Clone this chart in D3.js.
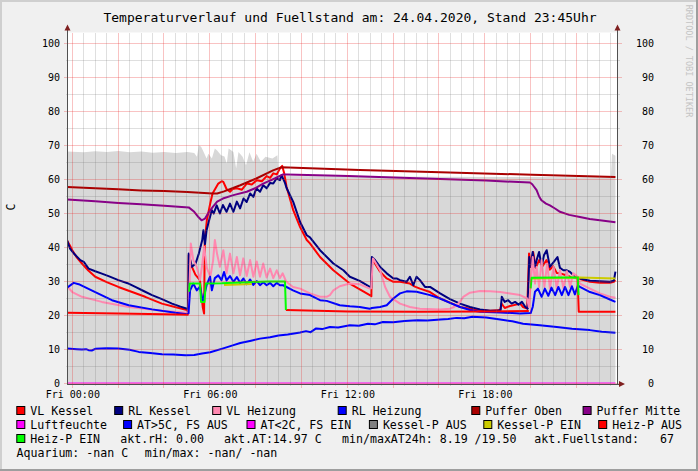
<!DOCTYPE html>
<html><head><meta charset="utf-8">
<script src="https://cdn.jsdelivr.net/npm/d3@7"></script>
<style>body{margin:0;background:#f0f0f0}svg{display:block}text{font-family:"DejaVu Sans Mono",monospace}</style>
</head><body><svg id="c" width="698" height="471"></svg>
<script>
// ---------- data (hour of day, value) ----------
const fuellstand=[[-0.23,68.2],[0.5,68.0],[1.0,68.3],[1.51,68.1],[2.01,68.4],[2.51,68.0],[3.01,68.2],[3.51,67.9],[4.01,68.1],[4.52,67.8],[5.02,68.1],[5.32,67.8],[5.44,66.7],[5.52,70.1],[5.62,69.6],[5.7,68.5],[5.86,66.2],[5.94,67.6],[6.09,66.2],[6.22,69.1],[6.32,68.5],[6.49,67.1],[6.64,66.8],[6.74,64.7],[6.82,69.1],[7.03,68.1],[7.15,63.2],[7.25,68.1],[7.43,66.7],[7.58,64.2],[7.73,68.0],[7.89,65.2],[8.04,67.6],[8.23,65.2],[8.43,66.7],[8.73,66.2],[8.95,67.1],[9.01,61],[12.04,60.9],[16.06,60.8],[20.07,60.7],[23.5,60.6],[23.55,67.6],[23.7,67]];
const vlKessel=[[-0.23,42.1],[-0.1,40.5],[0,39.2],[0.2,37],[0.42,35.3],[0.7,33.2],[1.0,31.4],[1.5,29.8],[2.01,28.4],[2.61,26.9],[3.18,25.5],[3.61,24.3],[3.91,23.5],[4.52,22.4],[5.01,21.6],[5.05,21],[5.08,37.7],[5.22,34.3],[5.37,32],[5.57,30.4],[5.69,22.5],[5.75,20.6],[5.78,42],[5.87,48],[6.02,53],[6.12,55.9],[6.37,58.8],[6.52,59.5],[6.59,59.3],[6.73,57.2],[6.88,56.4],[7.0,57.2],[7.18,57.4],[7.4,57.0],[7.61,58.8],[7.83,58.5],[8.05,59.8],[8.27,59.5],[8.48,61],[8.63,60.5],[8.77,61.8],[8.92,61.5],[9.06,63.2],[9.16,64],[9.24,62],[9.35,57.8],[9.64,51],[9.94,46],[10.23,42.2],[10.37,41.2],[10.81,37.2],[11.39,33.3],[12.11,29.4],[12.98,26],[13.05,25.7],[13.07,36.8],[13.43,32.9],[13.72,30.9],[14.01,29.9],[14.3,29.9],[14.73,29.4],[14.95,28.5],[15.17,27.9],[15.61,26.9],[16.05,25],[16.48,23.8],[16.92,22.5],[17.35,22],[17.79,21.6],[18.23,21.4],[18.67,21.6],[18.73,23.5],[18.87,22.2],[19.1,22.8],[19.37,23.2],[19.54,23.5],[19.67,22.5],[19.85,22],[19.93,38.2],[20.02,34.3],[20.11,38.7],[20.22,34],[20.37,36.3],[20.52,34.5],[20.69,36.3],[20.84,33.5],[20.98,34.5],[21.14,32.5],[21.28,32.4],[21.48,32],[21.72,31.4],[22.15,30.7],[22.59,29.9],[23.02,29.6],[23.46,29.6],[23.63,29.9],[23.7,30.4]];
const rlKessel=[[-0.23,42.1],[-0.1,39.7],[0.1,38],[0.35,36.3],[0.5,35.8],[0.71,33.8],[1.0,33],[1.29,32.3],[1.61,31.5],[2.01,30.4],[2.41,29.5],[2.75,28.4],[3.11,27.2],[3.48,26],[3.91,24.8],[4.35,23.5],[4.72,22.6],[5.01,22],[5.06,22],[5.08,38.2],[5.22,34.3],[5.38,35.3],[5.52,38.2],[5.67,42.2],[5.72,45.1],[5.79,41],[5.86,45.1],[5.97,48],[6.09,51],[6.17,50],[6.3,52.4],[6.44,50],[6.57,52.5],[6.73,50.5],[6.88,52.9],[7.03,50.5],[7.18,53.5],[7.32,51.5],[7.47,54.4],[7.61,53.4],[7.76,55.9],[7.9,54.9],[8.03,57.4],[8.19,56.4],[8.33,58.3],[8.48,57.4],[8.63,59],[8.77,58.8],[8.91,60.3],[9.06,59.8],[9.13,61.3],[9.28,59],[9.35,57.5],[9.64,53.4],[9.94,47.5],[10.23,43.6],[10.37,43],[10.81,39.2],[11.39,35.3],[11.83,33.3],[12.11,31.4],[12.54,30.2],[12.98,28.4],[13.04,28.2],[13.07,37.2],[13.21,36.3],[13.43,34.3],[13.72,32.4],[14.01,30.9],[14.15,30.9],[14.3,30.4],[14.59,29.9],[14.73,31.4],[14.88,28.9],[15.02,31.4],[15.17,30.4],[15.39,28.4],[15.61,28.4],[16.05,26.5],[16.48,24.8],[16.92,23.5],[17.35,22.5],[17.79,21.8],[18.23,21.4],[18.57,21.4],[18.69,21.6],[18.74,25.5],[18.87,24],[19.02,24.5],[19.17,23.5],[19.32,24],[19.47,23.2],[19.62,24],[19.77,22.5],[19.87,22],[19.94,37.2],[20.0,34.3],[20.09,38.7],[20.19,34.3],[20.26,36.3],[20.37,38.7],[20.48,34.3],[20.58,37.7],[20.7,39.2],[20.84,34.3],[21.07,36.3],[21.17,37.2],[21.28,34],[21.43,33.3],[21.58,33.3],[21.72,32.8],[21.86,31.9],[22.15,30.9],[22.59,30.2],[23.02,30.1],[23.46,29.9],[23.63,30.2],[23.7,32.9]];
const vlHeizung=[[-0.23,28.6],[0,26.9],[0.42,25.5],[1.29,24],[2.46,22.5],[3.91,21.4],[5.01,20.8],[5.07,20.6],[5.12,30],[5.17,41.2],[5.28,36.3],[5.43,34.3],[5.57,30.4],[5.67,35],[5.75,40.2],[5.87,34],[6.02,31.4],[6.14,36],[6.22,42.2],[6.32,38],[6.44,34.3],[6.59,39.2],[6.73,32.4],[6.88,38.2],[7.03,32.4],[7.18,37.2],[7.32,31.8],[7.46,36.8],[7.61,31.6],[7.76,36.3],[7.9,31.4],[8.05,35.9],[8.19,31.4],[8.33,35.3],[8.48,31.2],[8.63,33.8],[8.77,31],[8.92,33.3],[9.06,31],[9.18,32.4],[9.33,30],[9.63,28.4],[9.94,27.9],[10.37,26.5],[10.81,25.5],[11.1,25.5],[11.24,26],[11.39,27.4],[11.67,28.6],[12.11,29.4],[12.54,29.2],[12.98,27.9],[13.04,28],[13.12,36.8],[13.43,33.3],[13.65,28.4],[13.86,25.5],[14.3,23.5],[14.73,22.5],[15.17,22],[16.05,21.8],[16.48,22],[16.66,22.5],[16.92,24],[17.06,25.5],[17.35,26.7],[17.79,27.2],[18.23,27.1],[18.67,26.9],[19.1,26.5],[19.54,26],[19.85,25],[19.92,22.5],[20.0,29],[20.09,37.2],[20.19,29.4],[20.26,34.3],[20.37,28.4],[20.48,36.3],[20.6,28.4],[20.72,35.3],[20.84,28],[21.0,34.3],[21.14,28],[21.28,33.3],[21.43,28],[21.58,33],[21.72,28.4],[21.86,32.4],[22.03,31.5],[22.15,29.4],[22.59,27.9],[23.02,26.5],[23.46,25.5],[23.7,25.2]];
const rlHeizung=[[-0.23,28.2],[0.06,29.6],[0.28,29.2],[1.0,26.9],[1.73,24.5],[2.46,23],[3.48,21.8],[4.5,20.8],[5.01,20.4],[5.07,20.6],[5.14,27.4],[5.28,29.4],[5.43,27.4],[5.57,28.5],[5.69,24],[5.86,28.9],[6.01,31.4],[6.09,27.4],[6.22,31],[6.37,31.8],[6.51,30.4],[6.62,32.8],[6.73,30.3],[6.88,31.6],[7.03,29.9],[7.18,31.3],[7.32,29.6],[7.47,30.9],[7.61,29.2],[7.76,30.6],[7.9,29.0],[8.05,30.1],[8.19,28.9],[8.33,29.8],[8.48,28.9],[8.63,29.6],[8.77,28.6],[8.92,29.6],[9.06,28.9],[9.2,28.9],[9.63,27.4],[9.94,26.5],[10.37,26],[10.81,24.5],[11.1,24.3],[11.67,23],[12.11,22.7],[12.54,22.5],[12.98,22],[13.07,22.2],[13.43,22.5],[13.72,23],[14.01,25],[14.3,26.5],[14.59,27.1],[15.02,27],[15.61,26],[16.05,25],[16.48,23.7],[16.92,22.5],[17.35,21.6],[17.79,21.1],[18.67,20.9],[19.54,20.6],[20.0,20.7],[20.09,22.5],[20.19,27],[20.32,27.9],[20.48,25.5],[20.62,27.9],[20.77,25.8],[20.91,28.2],[21.07,26],[21.21,28.4],[21.36,26],[21.5,28.4],[21.65,26],[21.8,28.6],[21.93,26.2],[22.06,28.8],[22.15,28.4],[22.59,26.9],[23.02,26],[23.46,24.7],[23.7,24]];
const pufferOben=[[-0.23,57.8],[1,57.4],[2.01,57.1],[3.01,56.8],[4.01,56.6],[5.02,56.3],[6.12,55.9],[6.32,55.9],[6.62,56.5],[7.33,58.3],[8.03,60.3],[8.76,62.7],[9.13,63.6],[12.54,62.8],[16.06,62.1],[20.07,61.4],[23.7,60.7]];
const pufferMitte=[[-0.23,54.1],[1,53.6],[2.01,53.1],[3.01,52.7],[4.01,52.3],[5.08,51.8],[5.32,50.5],[5.52,48.8],[5.64,48],[5.79,48.5],[5.97,50.5],[6.14,52],[6.32,53.5],[6.57,54.4],[7.03,55.4],[7.61,56.4],[8.03,57.6],[8.33,58.8],[8.83,60.3],[9.19,61.5],[9.36,61.5],[12.04,61],[15.05,60.4],[18.06,59.7],[19.97,59.1],[20.07,58.6],[20.26,56.9],[20.37,55],[20.47,53.9],[20.67,52.9],[20.84,52.4],[21.08,51.4],[21.28,50.5],[21.68,49.6],[22.15,49],[22.58,48.4],[23.02,48],[23.7,47.4]];
const luftfeuchte=[[-0.23,0],[23.7,0]];
const aussen=[[-0.23,10.3],[0.2,10.1],[0.42,10.0],[0.6,10.1],[0.71,9.8],[0.85,9.7],[1.0,10.2],[1.5,10.4],[2.01,10.3],[2.5,9.9],[2.9,9.3],[3.4,9.0],[3.91,8.6],[4.4,8.5],[4.93,8.3],[5.32,8.4],[5.66,8.8],[6.02,9.2],[6.62,10.4],[7.0,11.2],[7.33,11.9],[7.8,12.6],[8.19,13.2],[8.63,13.6],[9.0,14.1],[9.4,14.4],[9.94,15.0],[10.2,15.4],[10.4,15.1],[10.64,16.2],[10.9,16.0],[11.24,16.6],[11.6,16.5],[12.11,17.1],[12.5,17.0],[12.9,17.6],[13.2,17.4],[13.55,18.1],[14.0,18.0],[14.5,18.4],[15.05,18.6],[15.5,18.5],[16.06,18.8],[16.4,19.0],[16.76,19.3],[17.1,19.2],[17.46,19.6],[18.06,19.4],[18.67,18.8],[19.2,18.3],[19.67,17.6],[20.4,17.1],[21.14,16.6],[21.8,16.1],[22.58,15.7],[23.1,15.2],[23.7,14.9]];
const kesselPEin=[[6.62,29.0],[7.83,29.3],[7.84,null],[20.07,30.9],[22.15,31.2],[23.7,30.9]];
const heizPAus=[[-0.23,20.8],[2.01,20.6],[4.01,20.4],[5.07,20.2],[5.08,null],[9.32,21.6],[12.04,21.2],[15.05,21.1],[18.06,21.2],[19.92,21.3],[19.93,null],[22.05,30.6],[22.1,21.1],[23.7,21.1]];
const heizPEin=[[5.1,27],[5.12,29.4],[5.57,29.4],[5.62,24],[5.77,24],[5.82,29.4],[6.52,29.5],[7.53,29.8],[8.53,30],[9.28,30],[9.32,21.6],[9.33,null],[20.0,28],[20.04,31.1],[21.08,31.2],[22.06,31.2],[22.09,26]];

const yTicks=[0,10,20,30,40,50,60,70,80,90,100];
const xTickHours=[0,6,12,18];
const xTickLabels=["Fri 00:00","Fri 06:00","Fri 12:00","Fri 18:00"];
const titleText="Temperaturverlauf und Fuellstand am: 24.04.2020, Stand 23:45Uhr";
const legendRow1=[["VL Kessel","#ff0000"],["RL Kessel","#000080"],["VL Heizung","#ff88b0"],["RL Heizung","#0000ff"],["Puffer Oben","#aa0000"],["Puffer Mitte","#880088"]];
const legendRow2=[["Luftfeuchte","#ff00ff"],["AT>5C, FS AUS","#0000ff"],["AT<2C, FS EIN","#ff00ff"],["Kessel-P AUS","#808080"],["Kessel-P EIN","#cccc00"],["Heiz-P AUS","#ff0000"]];
const legendRow3=[["Heiz-P EIN","#00ff00"]];
const infoRow3=["akt.rH: 0.00","akt.AT:14.97 C","min/maxAT24h: 8.19 /19.50","akt.Fuellstand:   67"];
const infoRow4=["Aquarium: -nan C","min/max: -nan/ -nan"];

// ---------- layout ----------
const W=698,H=471, L=67.5,R=617.5,T=32.5,B=383.5;
const row1X=[16.3,114.2,212.2,337.7,471.3,582.6];
const row2X=[16.3,123.1,246.5,368.9,483.3,598.2];
const info3X=[120.2,224,342,534.3];
const info4X=[16.5,144.7];
const rowY=[411,425,439,453];

const svg=d3.select("#c");
svg.append("rect").attr("width",W).attr("height",H).attr("fill","#f0f0f0");
svg.append("path").attr("d",`M0,1H${W-1}M1,0V${H-1}`).attr("stroke","#cfcfcf").attr("stroke-width",2);
svg.append("path").attr("d",`M${W-1},0V${H}M0,${H-1}H${W}`).attr("stroke","#9e9e9e").attr("stroke-width",2);

const x=d3.scaleLinear().domain([-0.21,23.79]).range([L,R]);
const y=d3.scaleLinear().domain([0,(B-T)/3.4]).range([B,T]);

svg.append("defs").append("clipPath").attr("id","clip").append("rect").attr("x",L).attr("y",T).attr("width",R-L).attr("height",B-T);
svg.append("rect").attr("x",L).attr("y",T).attr("width",R-L).attr("height",B-T).attr("fill","#ffffff");

const plot=svg.append("g").attr("clip-path","url(#clip)");
plot.append("path").datum(fuellstand).attr("fill","#d8d8d8")
  .attr("d",d3.area().x(d=>x(d[0])).y0(y(0)).y1(d=>y(d[1])));

// grid
const grid=svg.append("g").attr("shape-rendering","crispEdges");
const minorX=d3.range(0,23.76,0.5), minorY=d3.range(5,101,10);
grid.selectAll(".mx").data(minorX.filter(h=>h%2!==0)).enter().append("line")
  .attr("x1",d=>x(d)).attr("x2",d=>x(d)).attr("y1",T).attr("y2",B+2).attr("stroke","rgba(110,110,110,0.22)");
grid.selectAll(".my").data(minorY).enter().append("line")
  .attr("x1",L-2).attr("x2",R+2).attr("y1",d=>y(d)).attr("y2",d=>y(d)).attr("stroke","rgba(110,110,110,0.22)");
grid.selectAll(".Mx").data(d3.range(0,23,2)).enter().append("line")
  .attr("x1",d=>x(d)).attr("x2",d=>x(d)).attr("y1",T).attr("y2",B+4).attr("stroke","rgba(235,40,40,0.28)");
grid.selectAll(".My").data(yTicks).enter().append("line")
  .attr("x1",L-4).attr("x2",R+4).attr("y1",d=>y(d)).attr("y2",d=>y(d)).attr("stroke","rgba(235,40,40,0.28)");

// lines
const line=d3.line().defined(d=>d[1]!==null).x(d=>x(d[0])).y(d=>y(d[1]));
const series=[[vlKessel,"#ff0000"],[rlKessel,"#000080"],[vlHeizung,"#ff88b0"],[rlHeizung,"#0000ff"],[pufferOben,"#aa0000"],[pufferMitte,"#880088"],[luftfeuchte,"#ff00ff"],[aussen,"#0000ff"],[kesselPEin,"#cccc00"],[heizPAus,"#ff0000"],[heizPEin,"#00ff00"]];
series.forEach(([data,col])=>{
  plot.append("path").datum(data).attr("fill","none").attr("stroke",col).attr("stroke-width",2)
    .attr("stroke-linejoin","round").attr("d",line);
});

// axes
const axCol="#505050", arCol="#7f1f1f";
svg.append("path").attr("d",`M${L},${B+0.5}V28M${R},${B+0.5}V28M${L-0.5},${B+0.5}H621`).attr("stroke",axCol).attr("stroke-width",1).attr("fill","none").attr("shape-rendering","crispEdges");
svg.append("path").attr("d",`M${L},24.5L${L-3},30.5L${L+3},30.5Z M${R},24.5L${R-3},30.5L${R+3},30.5Z M625,${B+0.5}L619,${B-2.5}L619,${B+3.5}Z`).attr("fill",arCol);

const fnt=g=>{g.select(".domain").remove();g.selectAll(".tick line").remove();
  g.selectAll("text").attr("font-family","DejaVu Sans Mono").attr("font-size",10).attr("fill","#000");};
svg.append("g").attr("transform",`translate(${L},0)`).call(d3.axisLeft(y).tickValues(yTicks).tickSize(0).tickPadding(7.5).tickFormat(d3.format("d"))).call(fnt);
const ra=svg.append("g").attr("transform",`translate(${R},0)`).call(d3.axisRight(y).tickValues(yTicks).tickSize(0).tickPadding(0).tickFormat(d3.format("d"))).call(fnt);
ra.selectAll("text").attr("text-anchor","end").attr("x",36.5);
svg.append("g").attr("transform",`translate(0,${B})`).call(d3.axisBottom(x).tickValues(xTickHours).tickSize(0).tickPadding(7).tickFormat((d,i)=>xTickLabels[i])).call(fnt);

// title, axis title, watermark
svg.append("text").attr("x",350).attr("y",21.5).attr("text-anchor","middle").attr("font-size",13).text(titleText);
svg.append("text").attr("transform","translate(15,207) rotate(-90)").attr("text-anchor","middle").attr("font-size",11.5).text("C");
svg.append("text").attr("transform","translate(686,4.7) rotate(90)").attr("font-size",8.5).attr("fill","#c4c4c4").text("RRDTOOL / TOBI OETIKER");

// legend
const lg=svg.append("g").attr("font-size",11.6);
const box=(sx,cy,col)=>lg.append("rect").attr("x",sx+0.5).attr("y",cy-4.5).attr("width",8).attr("height",8).attr("fill",col).attr("stroke","#000").attr("stroke-width",1);
const txt=(tx,cy,s)=>lg.append("text").attr("x",tx).attr("y",cy+4.2).attr("xml:space","preserve").style("white-space","pre").text(s);
legendRow1.forEach((e,i)=>{box(row1X[i],rowY[0],e[1]);txt(row1X[i]+14,rowY[0],e[0]);});
legendRow2.forEach((e,i)=>{box(row2X[i],rowY[1],e[1]);txt(row2X[i]+14,rowY[1],e[0]);});
legendRow3.forEach(e=>{box(16.3,rowY[2],e[1]);txt(30.3,rowY[2],e[0]);});
infoRow3.forEach((s,i)=>txt(info3X[i],rowY[2],s));
infoRow4.forEach((s,i)=>txt(info4X[i],rowY[3],s));
</script></body></html>
